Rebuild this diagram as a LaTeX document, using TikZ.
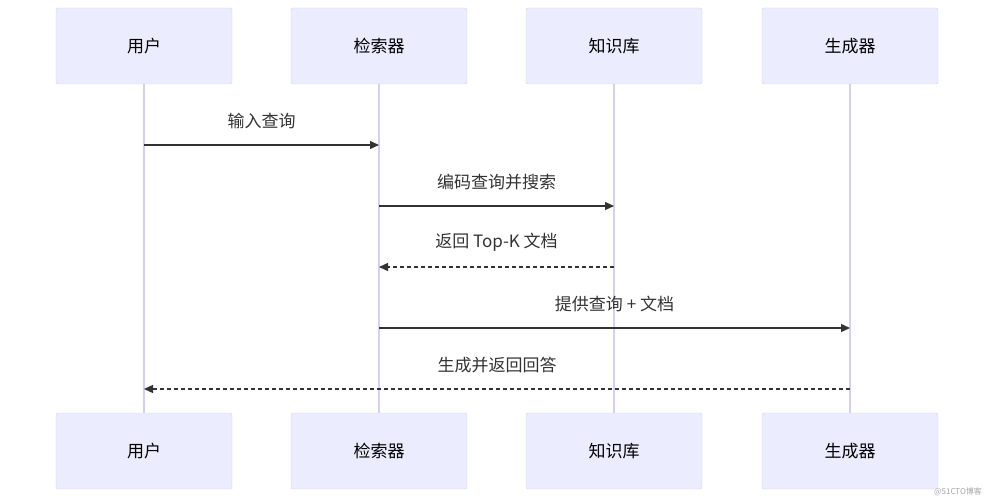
\documentclass[tikz,border=0pt]{standalone}
\usepackage{fontspec}
\setmainfont{Noto Sans CJK SC}
\usetikzlibrary{positioning,arrows.meta}
\definecolor{actfill}{HTML}{ECECFF}
\definecolor{actdraw}{HTML}{D4D0F2}
\definecolor{msgcol}{HTML}{333333}
\tikzset{
  actor/.style={draw=actdraw, fill=actfill, rounded corners=2pt,
    minimum width=176pt, minimum height=76pt, font=\fontsize{17}{20}\selectfont, text=black},
  life/.style={draw=actdraw, line width=1.5pt},
  msg/.style={draw=msgcol, line width=1.4pt, -{Triangle[length=9pt,width=8pt]}},
  reply/.style={msg, dash pattern=on 4pt off 3pt},
  lbl/.style={font=\fontsize{17}{20}\selectfont, text=msgcol}
}
\begin{document}
\begin{tikzpicture}[x=1pt,y=-1pt]
\useasboundingbox (0,0) rectangle (990,500);
% participants
\foreach \n/\t/\x in {user/用户/144, ret/检索器/379, kb/知识库/614, gen/生成器/850}{
  \node[actor] (\n top) at (\x,46) {\t};
  \node[actor] (\n bot) at (\x,451) {\t};
  \draw[life] (\n top.south) -- (\n bot.north);
}
% messages
\coordinate (m1a) at (144,145); \coordinate (m1b) at (379,145);
\draw[msg] (m1a) -- (m1b) node[lbl, midway, above=12pt] {输入查询};
\coordinate (m2a) at (379,206); \coordinate (m2b) at (614,206);
\draw[msg] (m2a) -- (m2b) node[lbl, midway, above=12pt] {编码查询并搜索};
\coordinate (m3a) at (614,267); \coordinate (m3b) at (379,267);
\draw[reply] (m3a) -- (m3b) node[lbl, midway, above=12pt] {返回 Top-K 文档};
\coordinate (m4a) at (379,328); \coordinate (m4b) at (850,328);
\draw[msg] (m4a) -- (m4b) node[lbl, midway, above=12pt] {提供查询 + 文档};
\coordinate (m5a) at (850,389); \coordinate (m5b) at (144,389);
\draw[reply] (m5a) -- (m5b) node[lbl, midway, above=12pt] {生成并返回回答};
% watermark
\node[font=\fontsize{8}{9}\selectfont, text=gray!70] (wm) at (958,492) {@51CTO博客};
\end{tikzpicture}
\end{document}
